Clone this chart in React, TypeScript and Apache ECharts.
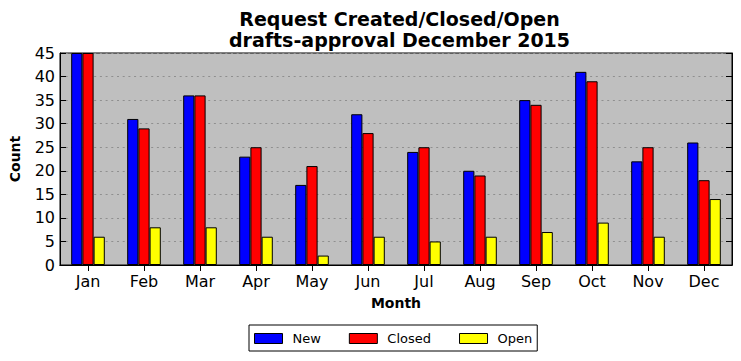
import React, { useEffect, useRef } from "react";
import * as echarts from "echarts";

const months = ["Jan", "Feb", "Mar", "Apr", "May", "Jun", "Jul", "Aug", "Sep", "Oct", "Nov", "Dec"];
const newValues = [45, 31, 36, 23, 17, 32, 24, 20, 35, 41, 22, 26];
const closedValues = [45, 29, 36, 25, 21, 28, 25, 19, 34, 39, 25, 18];
const openValues = [6, 8, 8, 6, 2, 6, 5, 6, 7, 9, 6, 14];
const yTicks = { min: 0, max: 45, interval: 5 };

const FONT = "DejaVu Sans";

export default function App() {
  const ref = useRef<HTMLDivElement>(null);
  useEffect(() => {
    if (!ref.current) return;
    const chart = echarts.init(ref.current, undefined, { renderer: "svg" });
    const barStyle = (color: string) => ({ color, borderColor: "#000", borderWidth: 1 });
    chart.setOption({
      animation: false,
      textStyle: { fontFamily: FONT },
      title: [
        {
          text: "Request Created/Closed/Open\ndrafts-approval December 2015",
          left: 394.5,
          textAlign: "center",
          top: 3,
          textStyle: { fontFamily: FONT, fontSize: 19, fontWeight: "bold", color: "#000", lineHeight: 21 },
        },
      ],
      legend: {
        bottom: 10,
        left: 249,
        data: ["New", "Closed", "Open"],
        orient: "horizontal",
        borderColor: "#000",
        borderWidth: 1,
        padding: [7, 5, 6, 5],
        itemWidth: 28,
        itemHeight: 10,
        itemGap: 28,
        icon: "rect",
        textStyle: { fontFamily: FONT, fontSize: 13, color: "#000", padding: [0, 0, 0, 5] },
        itemStyle: { borderColor: "#000", borderWidth: 1 },
      },
      grid: {
        left: 57,
        right: 9,
        top: 53,
        bottom: 96,
        show: true,
        backgroundColor: "#bfbfbf",
        borderColor: "#000",
        borderWidth: 1,
        containLabel: false,
      },
      xAxis: [
        {
          type: "category",
          data: months,
          position: "bottom",
          name: "Month",
          nameLocation: "middle",
          nameGap: 31,
          nameTextStyle: { fontFamily: FONT, fontSize: 14, fontWeight: "bold", color: "#000" },
          axisLine: { show: true, lineStyle: { color: "#000" } },
          axisTick: { show: true, inside: true, alignWithLabel: true, length: 6, lineStyle: { color: "#000" } },
          axisLabel: { fontFamily: FONT, fontSize: 16, color: "#000", margin: 8 },
          splitLine: { show: false },
        },
        {
          type: "category",
          data: months,
          position: "top",
          axisLine: { show: true, lineStyle: { color: "#000" } },
          axisTick: { show: true, inside: true, alignWithLabel: true, length: 6, lineStyle: { color: "#000" } },
          axisLabel: { show: false },
          splitLine: { show: false },
        },
      ],
      yAxis: [
        {
          type: "value",
          min: yTicks.min,
          max: yTicks.max,
          interval: yTicks.interval,
          position: "left",
          name: "Count",
          nameLocation: "middle",
          nameGap: 38,
          nameTextStyle: { fontFamily: FONT, fontSize: 14, fontWeight: "bold", color: "#000" },
          axisLine: { show: true, lineStyle: { color: "#000" } },
          axisTick: { show: true, inside: true, length: 6, lineStyle: { color: "#000" } },
          axisLabel: { fontFamily: FONT, fontSize: 16, color: "#000", margin: 5 },
          splitLine: { show: true, lineStyle: { color: "#8f8f8f", type: [2, 3.7], width: 1 } },
        },
        {
          type: "value",
          min: yTicks.min,
          max: yTicks.max,
          interval: yTicks.interval,
          position: "right",
          axisLine: { show: true, lineStyle: { color: "#000" } },
          axisTick: { show: true, inside: true, length: 6, lineStyle: { color: "#000" } },
          axisLabel: { show: false },
          splitLine: { show: false },
        },
      ],
      series: [
        { name: "New", type: "bar", data: newValues, barWidth: "20%", barGap: "0%", itemStyle: barStyle("#0000ff") },
        { name: "Closed", type: "bar", data: closedValues, barWidth: "20%", barGap: "0%", itemStyle: barStyle("#ff0000") },
        { name: "Open", type: "bar", data: openValues, barWidth: "20%", barGap: "0%", itemStyle: barStyle("#ffff00") },
      ],
    });
    return () => chart.dispose();
  }, []);
  return <div ref={ref} style={{ width: 741, height: 361, position: "absolute", left: 0, top: 0 }} />;
}
